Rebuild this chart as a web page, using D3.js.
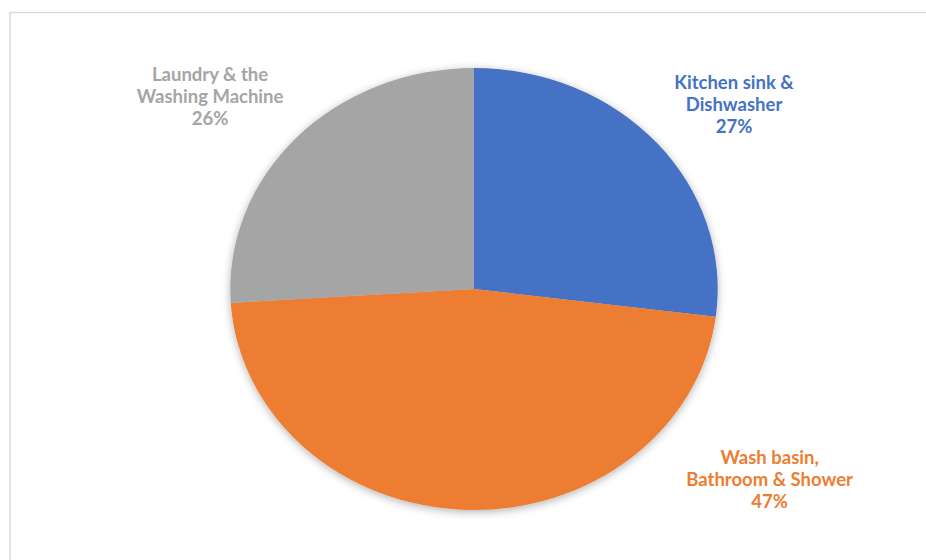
<!DOCTYPE html>
<html>
<head>
<meta charset="utf-8">
<script src="https://cdn.jsdelivr.net/npm/d3@7/dist/d3.min.js"></script>
<style>
  body { margin: 0; background: #fff; }
  svg { display: block; }
</style>
</head>
<body>
<svg width="926" height="560"></svg>
<script>
// data
var categories = ["Kitchen sink & Dishwasher", "Wash basin, Bathroom & Shower", "Laundry & the Washing Machine"];
var values = [27, 47, 26];
var labelLines = [["Kitchen sink &", "Dishwasher"], ["Wash basin,", "Bathroom & Shower"], ["Laundry & the", "Washing Machine"]];
var colors = ["#4472C4", "#ED7D31", "#A5A5A5"];

// where each label block sits, in pie-radius units from the centre (middle line)
var labelPos = [[1.067, -0.805], [1.213, 0.891], [-1.083, -0.842]];

var svg = d3.select("svg");
var cx = 474, cy = 289, rx = 243.7, ry = 221;

// chart frame
svg.append("rect")
  .attr("x", 10).attr("y", 12.5)
  .attr("width", 940).attr("height", 580)
  .attr("fill", "none")
  .attr("stroke", "#d9d9d9")
  .attr("stroke-width", 1.5);

var defs = svg.append("defs");
var f = defs.append("filter").attr("id", "shadow")
  .attr("x", "-10%").attr("y", "-10%").attr("width", "120%").attr("height", "120%");
f.append("feDropShadow")
  .attr("dx", 0).attr("dy", 2)
  .attr("stdDeviation", 4)
  .attr("flood-color", "#000")
  .attr("flood-opacity", 0.3);

var pie = d3.pie().sort(null).value(function(d) { return d; });
var arc = d3.arc().innerRadius(0).outerRadius(rx);
var arcs = pie(values);

var outer = svg.append("g").attr("filter", "url(#shadow)");
var g = outer.append("g")
  .attr("transform", "translate(" + cx + "," + cy + ") scale(1," + (ry / rx) + ")");

g.selectAll("path")
  .data(arcs)
  .enter().append("path")
    .attr("d", arc)
    .attr("fill", function(d, i) { return colors[i]; });

var total = d3.sum(values);
var lineH = 21.8;

var labels = svg.selectAll(".lbl")
  .data(arcs)
  .enter().append("text")
    .attr("class", "lbl")
    .attr("text-anchor", "middle")
    .style("font-family", "Lato, 'Open Sans', sans-serif")
    .style("font-weight", "700")
    .style("font-size", "18.5px")
    .attr("fill", function(d, i) { return colors[i]; });

labels.each(function(d, i) {
  var t = d3.select(this);
  var x = cx + labelPos[i][0] * rx;
  var y = cy + labelPos[i][1] * ry;
  var lines = labelLines[i].concat([Math.round(d.value / total * 100) + "%"]);
  lines.forEach(function(s, k) {
    t.append("tspan")
      .attr("x", x)
      .attr("y", y + (k - 1) * lineH)
      .text(s);
  });
});
</script>
</body>
</html>
